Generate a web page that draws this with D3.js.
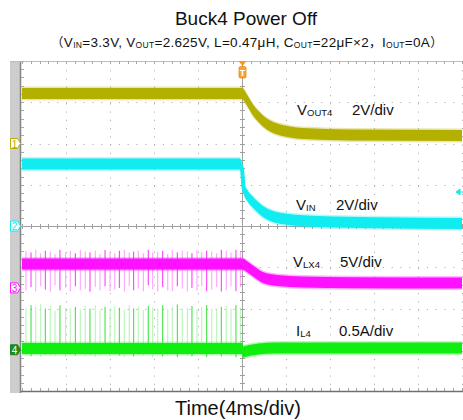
<!DOCTYPE html>
<html><head><meta charset="utf-8">
<script src="https://cdn.jsdelivr.net/npm/d3@7"></script>
<style>body{margin:0;background:#fff}svg{display:block}text{font-family:"Liberation Sans",Arial,sans-serif}</style>
</head><body><svg id="c" width="463" height="420"></svg>
<script>
// ---- data (time in ms, 4 ms/div) ----
const voutT = [-20, 0, 0.45, 1.0, 1.45, 1.9, 2.55, 3.2, 4.35, 5.55, 9.8, 20];
const voutV = [2.42, 2.42, 2.11, 1.62, 1.33, 1.09, 0.85, 0.70, 0.56, 0.48, 0.41, 0.39];
const vinT  = [-20, -0.2, 0.0, 0.15, 0.45, 1.0, 1.9, 2.8, 4.1, 7.0, 12, 20];
const vinV  = [3.01, 3.01, 2.76, 1.84, 1.50, 1.15, 0.70, 0.46, 0.33, 0.22, 0.16, 0.12];
const vlxT  = [-20, 0, 0.5, 1.0, 1.9, 3.2, 5.5, 10, 20];
const vlxV  = [2.90, 2.90, 2.53, 2.05, 1.26, 0.90, 0.72, 0.62, 0.59];
const ilT   = [-20, 0, 0.1, 0.6, 1.5, 3, 20];
const ilA   = [0.015, 0.015, -0.027, -0.01, 0.01, 0.02, 0.02];
const spikeT = [-19.64,-19.18,-18.75,-18.30,-17.88,-17.43,-17.00,-16.55,-16.03,-15.61,-15.15,-14.70,-14.25,-13.82,-13.34,-12.91,-12.45,-12.00,-11.57,-11.15,-10.70,-10.25,-9.85,-9.43,-8.97,-8.52,-8.12,-7.66,-7.21,-6.75,-6.34,-5.88,-5.43,-4.97,-4.55,-4.09,-3.66,-3.21,-2.75,-2.30,-1.88,-1.43,-1.00,-0.55,-0.15];
const vlxHi = [4.5,4.3,4.6,4.2,4.5,4.4,4.1,4.6,4.3,4.5,4.2,4.6,4.4,4.3,4.5,4.1,4.6,4.4,4.2,4.5,4.6,4.3,4.4,4.5,4.2,4.6,4.3,4.4,4.5,4.1,4.6,4.3,4.5,4.4,4.2,4.6,4.3,4.5,4.4,4.2,4.6,4.5,4.3,4.6,4.4];
const vlxLo = [-0.3,0.1,-0.4,0.2,-0.2,-0.45,0.3,-0.3,0.0,-0.4,0.2,-0.3,-0.1,-0.45,0.1,-0.3,0.2,-0.4,-0.2,0.0,-0.45,0.2,-0.3,-0.1,-0.4,0.3,-0.2,-0.45,0.1,-0.3,-0.4,0.2,-0.1,-0.45,0.0,-0.3,0.2,-0.4,-0.2,0.1,-0.45,-0.3,0.2,-0.4,0.1];
const ilHi = [0.50,0.54,0.52,0.55,0.50,0.53,0.47,0.54,0.51,0.50,0.52,0.49,0.53,0.50,0.54,0.48,0.52,0.50,0.53,0.51,0.49,0.54,0.50,0.52,0.48,0.53,0.51,0.50,0.54,0.49,0.52,0.55,0.50,0.51,0.53,0.49,0.52,0.54,0.50,0.48,0.52,0.53,0.50,0.54,0.51];
const ilLo = [-0.06,-0.08,-0.05,-0.09,-0.06,-0.07,-0.08,-0.05,-0.09,-0.06,-0.07,-0.05,-0.08,-0.06,-0.09,-0.07,-0.05,-0.08,-0.06,-0.07,-0.09,-0.05,-0.08,-0.06,-0.07,-0.05,-0.09,-0.06,-0.08,-0.07,-0.05,-0.09,-0.06,-0.07,-0.08,-0.05,-0.06,-0.09,-0.07,-0.05,-0.08,-0.06,-0.07,-0.09,-0.06];
const channels = [
  {id:"1", name:"V", sub:"OUT4", scaleLabel:"2V/div",   offset:2,    perDiv:2,   color:"#b4b000", T:voutT, V:voutV},
  {id:"2", name:"V", sub:"IN",   scaleLabel:"2V/div",   offset:0,    perDiv:2,   color:"#10ecf0", T:vinT,  V:vinV},
  {id:"3", name:"V", sub:"LX4",  scaleLabel:"5V/div",   offset:-1.5, perDiv:5,   color:"#ff10ff", T:vlxT,  V:vlxV},
  {id:"4", name:"I", sub:"L4",   scaleLabel:"0.5A/div", offset:-3,   perDiv:0.5, color:"#10ee10", T:ilT,   V:ilA}
];
const titleText = "Buck4 Power Off";
// 0 = normal, 1 = subscript, 2 = full-width CJK punctuation
const subtitleParts = [["（",2],["V",0],["IN",1],["=3.3V, V",0],["OUT",1],["=2.625V, L=0.47μH, C",0],["OUT",1],["=22μF×2",0],["，",2],["I",0],["OUT",1],["=0A",0],["）",2]];
const xLabel = "Time(4ms/div)";

// ---- layout ----
const svg = d3.select("#c");
const X0=22, X1=462, Y0=61, Y1=391;
const x = d3.scaleLinear().domain([-20,20]).range([X0,X1]);
const yDiv = d3.scaleLinear().domain([-4,4]).range([Y1,Y0]);
const yCh = (c,v) => yDiv(c.offset + v/c.perDiv);

// left gray bar
svg.append("rect").attr("x",10).attr("y",Y0).attr("width",11).attr("height",Y1-Y0+2).attr("fill","#cdcdcd");
svg.append("line").attr("x1",20.5).attr("x2",20.5).attr("y1",Y0).attr("y2",Y1+2).attr("stroke","#858585").attr("stroke-width",1.5);
// top border
svg.append("line").attr("x1",10).attr("x2",463).attr("y1",Y0+0.5).attr("y2",Y0+0.5).attr("stroke","#bdbdbd");

// grid
const g = svg.append("g");
const majX = d3.range(-16,17,4).filter(d=>d!==0);
g.selectAll(".vg").data(majX.concat([20])).join("line")
  .attr("x1",d=>x(d)+0.5).attr("x2",d=>x(d)+0.5).attr("y1",Y0+1).attr("y2",Y1)
  .attr("stroke","#b0b0b0").attr("stroke-dasharray","1.2,7.05");
const majY = d3.range(-3,4).filter(d=>d!==0);
g.selectAll(".hg").data(majY).join("line")
  .attr("x1",X0).attr("x2",X1).attr("y1",d=>Math.round(yDiv(d))+0.5).attr("y2",d=>Math.round(yDiv(d))+0.5)
  .attr("stroke","#b0b0b0").attr("stroke-dasharray","1.2,7.6");
// center crosshair
g.append("line").attr("x1",x(0)+0.5).attr("x2",x(0)+0.5).attr("y1",Y0).attr("y2",Y1).attr("stroke","#a0a0a0");
g.append("line").attr("x1",X0).attr("x2",X1).attr("y1",yDiv(0)+0.5).attr("y2",yDiv(0)+0.5).attr("stroke","#a0a0a0");
const minX = d3.range(-20,20.01,0.8);
const minY = d3.range(-4,4.01,0.2);
g.selectAll(".cxt").data(minX).join("line")
  .attr("x1",d=>Math.round(x(d))+0.5).attr("x2",d=>Math.round(x(d))+0.5).attr("y1",yDiv(0)-2).attr("y2",yDiv(0)+3).attr("stroke","#a0a0a0");
g.selectAll(".cyt").data(minY).join("line")
  .attr("y1",d=>Math.round(yDiv(d))+0.5).attr("y2",d=>Math.round(yDiv(d))+0.5).attr("x1",x(0)-2).attr("x2",x(0)+3).attr("stroke","#a0a0a0");
// edge ticks
g.selectAll(".tt").data(minX).join("line")
  .attr("x1",d=>Math.round(x(d))+0.5).attr("x2",d=>Math.round(x(d))+0.5).attr("y1",Y0).attr("y2",Y0+3).attr("stroke","#a8a8a8");
g.selectAll(".bt").data(minX).join("line")
  .attr("x1",d=>Math.round(x(d))+0.5).attr("x2",d=>Math.round(x(d))+0.5).attr("y1",Y1-3).attr("y2",Y1).attr("stroke","#a8a8a8");
g.selectAll(".lt").data(minY).join("line")
  .attr("y1",d=>Math.round(yDiv(d))+0.5).attr("y2",d=>Math.round(yDiv(d))+0.5).attr("x1",21).attr("x2",24).attr("stroke","#a8a8a8");
// bottom axis line
svg.append("line").attr("x1",21).attr("x2",463).attr("y1",Y1+0.5).attr("y2",Y1+0.5).attr("stroke","#707070").attr("stroke-width",1.6);

// traces
svg.append("clipPath").attr("id","pc").append("rect").attr("x",X0).attr("y",Y0).attr("width",X1-X0+1).attr("height",Y1-Y0);
const tr = svg.append("g").attr("clip-path","url(#pc)");
const halfW = 5.5;
// spikes
const spikeDefs = [
  {c:channels[2], hi:vlxHi, lo:vlxLo, col:"#ff78ff", bright:"#ff20ff"},
  {c:channels[3], hi:ilHi,  lo:ilLo,  col:"#98f298", bright:"#28e028"}
];
spikeDefs.forEach(s=>{
  tr.append("g").selectAll("line").data(spikeT).join("line")
    .attr("x1",d=>x(d)).attr("x2",d=>x(d))
    .attr("y1",(d,i)=>yCh(s.c, s.hi[i % s.hi.length]))
    .attr("y2",(d,i)=>yCh(s.c, s.lo[i % s.lo.length]))
    .attr("stroke",(d,i)=> i%3===1 ? s.bright : s.col)
    .attr("stroke-width",1).attr("opacity",(d,i)=> i%3===1 ? 0.95 : 0.75);
});
channels.forEach(c=>{
  const pts = c.T.map((t,i)=>[t,c.V[i]]);
  const fuzz = d3.area().x(d=>x(d[0])).y0(d=>yCh(c,d[1])-halfW-1.5).y1(d=>yCh(c,d[1])+halfW+1.5).curve(d3.curveMonotoneX);
  tr.append("path").attr("d",fuzz(pts)).attr("fill",c.color).attr("opacity",0.3);
  const band = d3.area().x(d=>x(d[0])).y0(d=>yCh(c,d[1])-halfW).y1(d=>yCh(c,d[1])+halfW).curve(d3.curveMonotoneX);
  tr.append("path").attr("d",band(pts)).attr("fill",c.color);
  const ln = d3.line().x(d=>x(d[0])).y(d=>yCh(c,d[1])).curve(d3.curveMonotoneX);
  tr.append("path").attr("d",ln(pts)).attr("fill","none").attr("stroke",c.color).attr("stroke-width",4);
});

// channel markers on the left bar
channels.forEach(c=>{
  const yy = yDiv(c.offset);
  const filled = c.id==="4";
  const stroke = filled ? "#1c8a1c" : c.color;
  svg.append("path").attr("d",`M10.5,${yy-5}H17.5L20.5,${yy}L17.5,${yy+5}H10.5Z`)
    .attr("fill", filled ? "#1c8a1c" : "#ffffff").attr("stroke",stroke).attr("stroke-width",1);
  svg.append("text").attr("x",14.5).attr("y",yy+4).attr("text-anchor","middle").attr("font-size",10)
    .attr("fill", filled ? "#ffffff" : c.color).text(c.id);
});

// trigger marker
svg.append("path").attr("d",`M${x(0)-3.5},${Y0}H${x(0)+4.5}L${x(0)+0.5},${Y0+5}Z`).attr("fill","#f39a1e");
svg.append("rect").attr("x",x(0)-3).attr("y",Y0+5.5).attr("width",7).attr("height",11.5).attr("rx",1.5)
  .attr("fill","#f7a23a").attr("stroke","#e88a10").attr("stroke-width",0.8);
svg.append("text").attr("x",x(0)+0.5).attr("y",Y0+15).attr("text-anchor","middle").attr("font-size",9).attr("font-weight","bold").attr("fill","#fff").text("T");
// right-side cyan level marker
svg.append("path").attr("d",`M456,192L460,189V195Z M460,192H463`).attr("fill",channels[1].color).attr("stroke",channels[1].color).attr("stroke-width",1);

// trace labels
const labelPos = [
  {nx:297, sx:352, y:115},
  {nx:296, sx:336, y:210},
  {nx:293, sx:340, y:267},
  {nx:296, sx:339, y:336}
];
channels.forEach((c,i)=>{
  const p = labelPos[i];
  const t = svg.append("text").attr("x",p.nx).attr("y",p.y).attr("font-size",15).attr("fill","#111");
  t.append("tspan").text(c.name);
  t.append("tspan").attr("font-size",9.5).attr("dy",1).text(c.sub);
  svg.append("text").attr("x",p.sx).attr("y",p.y).attr("font-size",15).attr("fill","#111").text(c.scaleLabel);
});

// titles
svg.append("text").attr("x",246).attr("y",25).attr("text-anchor","middle").attr("font-size",19).attr("fill","#111").text(titleText);
const sub = svg.append("text").attr("x",247).attr("y",47).attr("text-anchor","middle").attr("font-size",13.5)
  .attr("letter-spacing",0.3).attr("fill","#111");
let prevSub = 0;
subtitleParts.forEach(([s,kind])=>{
  const ts = sub.append("tspan").text(s);
  if(kind===1){ ts.attr("font-size",8.5).attr("dy",1); }
  else if(prevSub){ ts.attr("dy",-1); }
  if(kind===2){ ts.attr("font-family","'Noto Sans CJK SC',sans-serif").attr("font-size",12.5); }
  prevSub = kind===1 ? 1 : 0;
});
svg.append("text").attr("x",238).attr("y",415).attr("text-anchor","middle").attr("font-size",20).attr("fill","#111").text(xLabel);
</script></body></html>
